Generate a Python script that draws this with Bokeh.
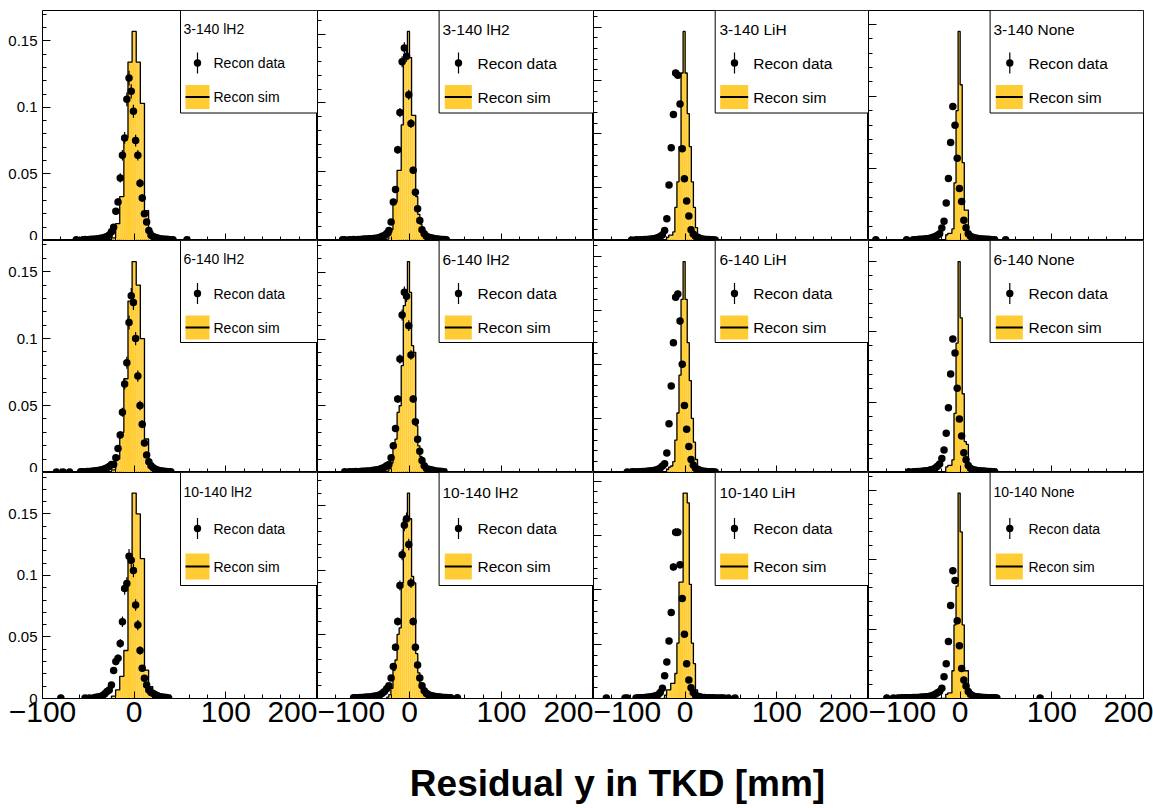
import math
from bokeh.plotting import figure
from bokeh.layouts import gridplot, column
from bokeh.models import (FixedTicker, BoxAnnotation, Label, ColumnDataSource, Range1d,
                          CustomJSTickFormatter)
from bokeh.embed import file_html
from bokeh.resources import INLINE

# ---------------- data ----------------
X_MIN, X_MAX = -100, 200
# simulated histogram: fine bins of 2.25 mm from -24.75 to 24.75 mm
SIM_EDGES = [-24.75 + 2.25 * i for i in range(23)]
# data histogram bin centres (2.4 mm bins) from -75.2 to 47.2 mm
DATA_X = [round(-75.2 + 2.4 * i, 1) for i in range(52)]

ROW_TAGS = ["3-140", "6-140", "10-140"]
COL_TAGS = ["lH2", "lH2", "LiH", "None"]

SIM_R1C1 = [0.002, 0.002, 0.0126, 0.0126, 0.033, 0.033, 0.0775, 0.0775, 0.134, 0.134, 0.157, 0.157, 0.134, 0.134, 0.103, 0.103, 0.0225, 0.0225, 0.007, 0.007, 0.002, 0.002]
SIM_R2C1 = [0.002, 0.002, 0.010, 0.010, 0.030, 0.030, 0.070, 0.070, 0.128, 0.128, 0.1575, 0.1575, 0.140, 0.140, 0.100, 0.100, 0.025, 0.025, 0.007, 0.007, 0.002, 0.002]
SIM_R3C1 = [0.002, 0.002, 0.007, 0.007, 0.018, 0.018, 0.039, 0.039, 0.1137, 0.1137, 0.167, 0.167, 0.150, 0.150, 0.1137, 0.1137, 0.023, 0.023, 0.0097, 0.0097, 0.003, 0.003]
SIM_R1C2 = [0.001, 0.004, 0.008, 0.028, 0.028, 0.051, 0.051, 0.084, 0.133, 0.133, 0.152, 0.133, 0.091, 0.091, 0.032, 0.019, 0.012, 0.005, 0.002, 0.001, 0, 0]
SIM_R2C2 = [0.001, 0.003, 0.007, 0.020, 0.025, 0.045, 0.050, 0.080, 0.125, 0.135, 0.158, 0.135, 0.095, 0.090, 0.035, 0.020, 0.012, 0.005, 0.002, 0.001, 0, 0]
SIM_R3C2 = [0.001, 0.003, 0.008, 0.022, 0.030, 0.050, 0.055, 0.090, 0.140, 0.140, 0.160, 0.140, 0.095, 0.090, 0.035, 0.020, 0.012, 0.005, 0.002, 0.001, 0, 0]
SIM_R1C3 = [0, 0, 0.003, 0.005, 0.005, 0.008, 0.031, 0.055, 0.088, 0.157, 0.196, 0.157, 0.119, 0.088, 0.055, 0.031, 0.012, 0.005, 0.002, 0, 0, 0]
SIM_R2C3 = [0, 0, 0.003, 0.005, 0.006, 0.010, 0.030, 0.055, 0.090, 0.160, 0.195, 0.160, 0.120, 0.085, 0.050, 0.028, 0.012, 0.005, 0.002, 0, 0, 0]
SIM_R3C3 = [0, 0.003, 0.008, 0.008, 0.014, 0.014, 0.023, 0.051, 0.107, 0.107, 0.189, 0.189, 0.180, 0.105, 0.051, 0.032, 0.008, 0.003, 0, 0, 0, 0]
SIM_R1C4 = [0, 0, 0, 0, 0.004, 0.005, 0.005, 0.008, 0.040, 0.090, 0.145, 0.108, 0.054, 0.021, 0.021, 0.005, 0.003, 0, 0, 0, 0, 0]
SIM_R2C4 = [0, 0, 0, 0, 0.004, 0.005, 0.005, 0.009, 0.042, 0.092, 0.150, 0.110, 0.056, 0.022, 0.020, 0.005, 0.003, 0, 0, 0, 0, 0]
SIM_R3C4 = [0, 0, 0, 0, 0.003, 0.004, 0.004, 0.020, 0.053, 0.081, 0.148, 0.120, 0.053, 0.020, 0.020, 0.004, 0, 0, 0, 0, 0, 0]

DATA_R1C1 = [None, None, None, None, None, 0.0005, None, None, 0.0005, 0.0008, 0.0006, 0.0008, 0.0010, 0.0009, 0.0012, 0.0014, 0.0016, 0.0019, 0.0024, 0.0030, 0.0042, 0.0065,
             0.010, 0.022, 0.029, 0.047, 0.064, 0.077, 0.106, 0.122, 0.112, 0.097, 0.075, 0.064, 0.043, 0.032, 0.020, 0.0138, 0.0075, 0.004,
             0.003, 0.0022, 0.0018, 0.0014, 0.0012, 0.001, 0.0009, 0.0007, 0.0006, 0.0005, None, None]
DATA_R2C1 = [None, None, 0.0004, None, None, None, None, 0.0005, 0.0006, 0.0005, 0.0008, 0.0007, 0.0010, 0.0011, 0.0013, 0.0015, 0.0018, 0.0022, 0.0028, 0.0035, 0.0045, 0.0060,
             0.006, 0.011, 0.018, 0.028, 0.045, 0.066, 0.082, 0.112, 0.132, 0.127, 0.100, 0.072, 0.050, 0.036, 0.022, 0.013, 0.008, 0.005,
             0.0035, 0.0025, 0.0018, 0.0014, 0.0011, 0.0009, 0.0007, 0.0006, 0.0005, None, None, None]
DATA_R3C1 = [None, None, None, None, None, None, None, None, None, 0.0004, None, 0.0004, None, 0.0006, 0.0011, 0.0013, 0.0016, 0.0025, 0.0038, 0.0057, 0.0070, 0.011,
             0.0227, 0.030, 0.0327, 0.0448, 0.0624, 0.0894, 0.0934, 0.1156, 0.1123, 0.104, 0.076, 0.0597, 0.039, 0.0246, 0.0165, 0.011, 0.007, 0.0049,
             0.004, 0.003, 0.0022, 0.0015, 0.0012, 0.001, 0.0008, 0.0005, None, None, None, None]
DATA_R1C2 = [None, 0.0005, 0.0005, None, 0.0006, 0.0005, 0.0007, 0.0006, 0.0008, 0.0007, 0.0009, 0.0010, 0.0011, 0.0012, 0.0013, 0.0014, 0.0016, 0.0019, 0.0024, 0.0030, 0.0036, 0.0050,
             0.0073, 0.0134, 0.028, 0.037, 0.066, 0.093, 0.130, 0.140, 0.134, 0.106, 0.085, 0.051, 0.035, 0.023, 0.0146, 0.0078, 0.0049, 0.003,
             0.0024, 0.002, 0.0016, 0.0012, 0.001, 0.0009, 0.0008, 0.0007, 0.0005, None, None, None]
DATA_R2C2 = [None, None, 0.0005, None, 0.0005, 0.0006, 0.0005, 0.0007, 0.0006, 0.0008, 0.0009, 0.0010, 0.0011, 0.0012, 0.0014, 0.0016, 0.0018, 0.0021, 0.0026, 0.0032, 0.0040, 0.0050,
             0.006, 0.011, 0.020, 0.033, 0.055, 0.085, 0.118, 0.135, 0.132, 0.110, 0.088, 0.055, 0.038, 0.025, 0.016, 0.009, 0.005, 0.003,
             0.0025, 0.002, 0.0016, 0.0013, 0.001, 0.0009, 0.0007, 0.0006, None, None, None, None]
DATA_R3C2 = [None, None, None, None, None, None, 0.0005, 0.0006, 0.0005, 0.0008, 0.0007, 0.0009, 0.0011, 0.0012, 0.0014, 0.0017, 0.0020, 0.0024, 0.0030, 0.0040, 0.0055, 0.0075,
             0.010, 0.016, 0.025, 0.040, 0.060, 0.088, 0.112, 0.135, 0.140, 0.120, 0.090, 0.060, 0.040, 0.026, 0.016, 0.010, 0.006, 0.004,
             0.003, 0.0024, 0.002, 0.0016, 0.0013, 0.0011, 0.0009, 0.0008, 0.0007, 0.0006, 0.0005, None]
DATA_R1C3 = [None, None, None, None, None, None, None, 0.0005, None, 0.0006, 0.0005, 0.0007, 0.0008, 0.0009, 0.0010, 0.0012, 0.0014, 0.0017, 0.0021, 0.0028, 0.0037, 0.0055,
             0.0094, 0.0204, 0.052, 0.087, 0.118, 0.157, 0.155, 0.128, 0.086, 0.058, 0.037, 0.023, 0.010, 0.006, 0.004, 0.003, 0.002, 0.0015,
             0.0012, 0.001, 0.0009, 0.0008, 0.0006, 0.0005, None, None, None, None, None, None]
DATA_R2C3 = [None, None, None, None, None, 0.0005, None, 0.0005, 0.0006, 0.0005, 0.0007, 0.0008, 0.0009, 0.0010, 0.0012, 0.0014, 0.0016, 0.0019, 0.0024, 0.0031, 0.0042, 0.0060,
             0.008, 0.018, 0.045, 0.080, 0.120, 0.162, 0.165, 0.140, 0.100, 0.062, 0.040, 0.024, 0.012, 0.007, 0.004, 0.003, 0.002, 0.0015,
             0.0012, 0.001, 0.0008, 0.0007, 0.0006, 0.0005, None, None, None, None, None, None]
DATA_R3C3 = [None, None, None, None, 0.0004, 0.0004, None, None, None, 0.0005, 0.0006, 0.0007, 0.0008, 0.0009, 0.0011, 0.0013, 0.0016, 0.0020, 0.0026, 0.0035, 0.0055, 0.0094,
             0.021, 0.0335, 0.053, 0.079, 0.121, 0.153, 0.153, 0.123, 0.092, 0.059, 0.032, 0.017, 0.010, 0.0055, 0.003, 0.002, 0.0015, 0.001,
             0.0009, 0.0008, 0.0007, 0.0006, 0.0006, 0.0005, 0.0005, 0.0004, 0.0004, 0.0004, None, 0.0004]
DATA_R1C4 = [None, None, None, None, None, None, None, 0.0005, None, None, 0.0005, 0.0006, 0.0007, 0.0008, 0.0009, 0.0010, 0.0012, 0.0014, 0.0017, 0.0022, 0.0028, 0.0036,
             0.0046, 0.0086, 0.0134, 0.026, 0.043, 0.068, 0.093, 0.080, 0.057, 0.036, 0.027, 0.014, 0.0088, 0.0046, 0.003, 0.0022, 0.0018, 0.0015,
             0.0013, 0.0011, 0.001, 0.0009, 0.0008, 0.0007, 0.0006, 0.0005, None, None, None, None]
DATA_R2C4 = [None, None, None, None, None, None, None, None, 0.0005, None, 0.0005, 0.0006, 0.0007, 0.0008, 0.0009, 0.0011, 0.0013, 0.0015, 0.0019, 0.0024, 0.0032, 0.0045,
             0.006, 0.010, 0.016, 0.028, 0.046, 0.070, 0.095, 0.085, 0.060, 0.038, 0.026, 0.014, 0.009, 0.005, 0.003, 0.0022, 0.0018, 0.0015,
             0.0013, 0.0011, 0.001, 0.0009, 0.0008, 0.0007, 0.0006, 0.0005, None, None, None, None]
DATA_R3C4 = [None, 0.0004, None, 0.0004, 0.0004, 0.0005, 0.0005, 0.0005, 0.0006, 0.0006, 0.0007, 0.0007, 0.0008, 0.0009, 0.0010, 0.0011, 0.0013, 0.0015, 0.0018, 0.0023, 0.0030, 0.0042,
             0.0050, 0.0074, 0.0157, 0.025, 0.041, 0.067, 0.092, 0.085, 0.056, 0.038, 0.0217, 0.0133, 0.009, 0.005, 0.003, 0.002, 0.0015, 0.0012,
             0.001, 0.0009, 0.0008, 0.0007, 0.0006, 0.0006, 0.0005, 0.0005, 0.0004, None, None, None]

# isolated data points outside the main grid: (x, y)
OUT_R1C1 = [(57.6, 0.0005)]
OUT_R2C1 = [(-84.8, 0.0004), (-77.6, 0.0004)]
OUT_R3C1 = [(-80.0, 0.0004)]
OUT_R1C2 = []
OUT_R2C2 = []
OUT_R3C2 = [(52.0, 0.0005)]
OUT_R1C3 = []
OUT_R2C3 = []
OUT_R3C3 = [(-86.0, 0.0004), (54.4, 0.0004)]
OUT_R1C4 = [(-92.0, 0.0005), (49.6, 0.0005)]
OUT_R2C4 = []
OUT_R3C4 = [(-80.0, 0.0004), (87.2, 0.0004)]

# effective number of entries (sets the size of the statistical error bars)
N_ENTRIES = [[4000, 8000, 17000, 50000],
             [4000, 7000, 15000, 40000],
             [3400, 6000, 11000, 16000]]

SIMS = [[SIM_R1C1, SIM_R1C2, SIM_R1C3, SIM_R1C4],
        [SIM_R2C1, SIM_R2C2, SIM_R2C3, SIM_R2C4],
        [SIM_R3C1, SIM_R3C2, SIM_R3C3, SIM_R3C4]]
DATAS = [[DATA_R1C1, DATA_R1C2, DATA_R1C3, DATA_R1C4],
         [DATA_R2C1, DATA_R2C2, DATA_R2C3, DATA_R2C4],
         [DATA_R3C1, DATA_R3C2, DATA_R3C3, DATA_R3C4]]
OUTS = [[OUT_R1C1, OUT_R1C2, OUT_R1C3, OUT_R1C4],
        [OUT_R2C1, OUT_R2C2, OUT_R2C3, OUT_R2C4],
        [OUT_R3C1, OUT_R3C2, OUT_R3C3, OUT_R3C4]]

X_TICKS = [-100, 0, 100, 200]
X_TICK_LABELS = ["\u2212100", "0", "100", "200"]
Y_TICKS = [0, 0.05, 0.1, 0.15, 0.2]
Y_TICK_LABELS = ["0", "0.05", "0.1", "0.15", "0.2"]

X_TITLE = "Residual y in TKD [mm]"

# ---------------- style / layout ----------------
FONT = "Liberation Sans"
SIM_COLOR = "#ffcc33"
FRAME_W = [275, 276, 275, 275]
BORDER_L = [42, 0, 0, 0]
BORDER_R = [0, 0, 0, 10]
FRAME_H = [230, 232, 226]
BORDER_T = [10, 0, 0]
BORDER_B = [0, 0, 44]

# legend geometry (pixels from frame left/top)
LEG_COL = [dict(left=138, box=(143, 167), mark=155, text=171, head=141, fs=14),
           dict(left=121.6, box=(127.3, 154.3), mark=141, text=160, head=125, fs=15.5),
           dict(left=121.7, box=(126.7, 154.7), mark=141, text=159.7, head=126, fs=15.5),
           dict(left=121.6, box=(127.3, 154.3), mark=141.3, text=160, head=125, fs=15.5)]
LEG_ROW = [dict(h=102.5, head=18.5, data=52.5, sim=86.5, half=12),
           dict(h=102, head=18.5, data=53, sim=87, half=12),
           dict(h=113, head=19.5, data=56, sim=94, half=13)]

HIDE = CustomJSTickFormatter(code="return ''")


def style_axis(ax, show, size, standoff):
    ax.axis_line_color = "black"
    ax.major_tick_line_color = "black"
    ax.minor_tick_line_color = "black"
    ax.major_label_text_font = FONT
    if show:
        ax.major_label_text_color = "black"
        ax.major_label_text_font_size = size
        ax.major_label_standoff = standoff
    else:
        ax.formatter = HIDE
        ax.major_label_text_color = None
        ax.major_label_text_font_size = "0px"
        ax.major_label_standoff = 0


def make_panel(r, c):
    fw, fh = FRAME_W[c], FRAME_H[r]
    sim = SIMS[r][c]
    ymax = 1.1 * max(sim)
    p = figure(frame_width=fw, frame_height=fh,
               x_range=Range1d(X_MIN, X_MAX), y_range=Range1d(0, ymax),
               min_border_left=BORDER_L[c], min_border_right=BORDER_R[c],
               min_border_top=BORDER_T[r], min_border_bottom=BORDER_B[r],
               output_backend="svg", toolbar_location=None)
    p.background_fill_color = "white"
    p.border_fill_color = "white"
    p.xgrid.visible = False
    p.ygrid.visible = False
    p.outline_line_color = "black"
    p.outline_line_width = 1

    def px2x(off):
        return X_MIN + off / fw * (X_MAX - X_MIN)

    def px2y(off):
        return ymax * (1 - off / fh)

    # x axis (numbers only on the bottom row)
    xa = p.xaxis[0]
    xa.ticker = FixedTicker(ticks=X_TICKS, minor_ticks=list(range(-100, 201, 20)))
    xa.major_tick_in, xa.major_tick_out = 7, 0
    xa.minor_tick_in, xa.minor_tick_out = 4, 0
    if r == 2:
        xa.major_label_overrides = dict(zip(X_TICKS, X_TICK_LABELS))
        style_axis(xa, True, "30px", 3)
    else:
        style_axis(xa, False, "0px", 0)

    # y axis (numbers only on the first column)
    ya = p.yaxis[0]
    ya.ticker = FixedTicker(ticks=Y_TICKS, minor_ticks=[round(0.01 * k, 2) for k in range(26)])
    ya.major_tick_in, ya.major_tick_out = 8, 0
    ya.minor_tick_in, ya.minor_tick_out = 4, 0
    if c == 0:
        ya.major_label_overrides = dict(zip(Y_TICKS, Y_TICK_LABELS))
        style_axis(ya, True, "15px", 5)
    else:
        style_axis(ya, False, "0px", 0)

    # simulated histogram (filled + step outline)
    src = ColumnDataSource(dict(left=SIM_EDGES[:-1], right=SIM_EDGES[1:], top=sim))
    p.quad(left="left", right="right", bottom=0, top="top", source=src,
           fill_color=SIM_COLOR, line_color=None)
    p.step([SIM_EDGES[0]] + SIM_EDGES, [0] + list(sim) + [0], mode="after",
           line_color="black", line_width=1.3)

    # data points with errors
    xs, ys = [], []
    for x, v in zip(DATA_X, DATAS[r][c]):
        if v is not None:
            xs.append(x)
            ys.append(v)
    for x, v in OUTS[r][c]:
        xs.append(x)
        ys.append(v)
    n = N_ENTRIES[r][c]
    errs = [math.sqrt(v / n) for v in ys]
    dsrc = ColumnDataSource(dict(x=xs, y=ys, lo=[v - e for v, e in zip(ys, errs)],
                                 hi=[v + e for v, e in zip(ys, errs)]))
    p.segment(x0="x", y0="lo", x1="x", y1="hi", source=dsrc, line_color="black", line_width=1.2)
    p.scatter(x="x", y="y", source=dsrc, size=7.5, marker="circle",
              fill_color="black", line_color=None)

    # legend (ROOT style box)
    lc, lr = LEG_COL[c], LEG_ROW[r]
    fs = lc["fs"]
    if c == 3 and r == 2:
        fs = 14
    p.add_layout(BoxAnnotation(left=px2x(lc["left"]), right=X_MAX, top=ymax, bottom=px2y(lr["h"]),
                               fill_color="white", fill_alpha=1, line_color="black",
                               line_width=1, line_alpha=1))
    p.add_layout(Label(x=px2x(lc["head"]), y=px2y(lr["head"]), text=f"{ROW_TAGS[r]} {COL_TAGS[c]}",
                       text_font=FONT, text_font_size=f"{fs}px", text_baseline="middle",
                       text_align="left", text_color="black"))
    m = lc["mark"]
    dy = lr["data"]
    p.add_layout(BoxAnnotation(left=px2x(m - 0.6), right=px2x(m + 0.6), top=px2y(dy - 10.5),
                               bottom=px2y(dy + 10.5), fill_color="black", fill_alpha=1,
                               line_color=None))
    p.add_layout(BoxAnnotation(left=px2x(m - 3.7), right=px2x(m + 3.7), top=px2y(dy - 3.7),
                               bottom=px2y(dy + 3.7), fill_color="black", fill_alpha=1,
                               line_color=None, border_radius=4))
    p.add_layout(Label(x=px2x(lc["text"]), y=px2y(dy), text="Recon data",
                       text_font=FONT, text_font_size=f"{fs}px", text_baseline="middle",
                       text_align="left", text_color="black"))
    sy = lr["sim"]
    b0, b1 = lc["box"]
    p.add_layout(BoxAnnotation(left=px2x(b0), right=px2x(b1), top=px2y(sy - lr["half"]),
                               bottom=px2y(sy + lr["half"]), fill_color=SIM_COLOR, fill_alpha=1,
                               line_color=None))
    p.add_layout(BoxAnnotation(left=px2x(b0), right=px2x(b1), top=px2y(sy - 0.9),
                               bottom=px2y(sy + 0.9), fill_color="black", fill_alpha=1,
                               line_color=None))
    p.add_layout(Label(x=px2x(lc["text"]), y=px2y(sy), text="Recon sim",
                       text_font=FONT, text_font_size=f"{fs}px", text_baseline="middle",
                       text_align="left", text_color="black"))
    return p


panels = [[make_panel(r, c) for c in range(4)] for r in range(3)]
grid = gridplot(panels, toolbar_location=None)

TITLE_H = 808 - (240 + 232 + 270)
tfig = figure(width=1153, height=TITLE_H, x_range=Range1d(0, 1153), y_range=Range1d(0, TITLE_H),
              x_axis_type=None, y_axis_type=None, min_border=0, toolbar_location=None,
              output_backend="svg")
tfig.outline_line_color = None
tfig.xgrid.visible = False
tfig.ygrid.visible = False
tfig.add_layout(Label(x=617, y=TITLE_H - 41, text=X_TITLE, text_align="center",
                      text_baseline="middle", text_font=FONT, text_font_size="37px",
                      text_font_style="bold", text_color="black"))

layout = column(grid, tfig)
open("out.html", "w").write(file_html(layout, INLINE))
